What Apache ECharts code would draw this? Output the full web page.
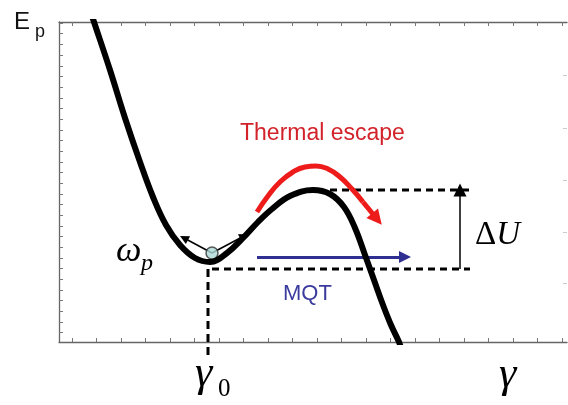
<!DOCTYPE html>
<html>
<head>
<meta charset="utf-8">
<script src="https://cdn.jsdelivr.net/npm/echarts@6/dist/echarts.min.js"></script>
<style>
  html, body { margin: 0; padding: 0; background: #fff; }
  #chart { width: 568px; height: 405px; }
</style>
</head>
<body>
<div id="chart"></div>
<script>
// potential E_p(γ) (arbitrary units, frame = 508 x 320)
const curveX = [33, 35, 51, 66, 81, 94, 107, 121, 136, 151, 168, 184, 199, 213, 231, 254, 271, 285, 296, 306, 315, 324, 332, 340, 342];
const curveY = [326, 320, 272, 224, 180, 145, 117, 97, 84, 80, 89, 104, 120, 133, 146, 152, 148, 135, 114, 87, 62, 37, 17, 0, -6];

// well bottom / barrier top levels
const gamma0 = 149;
const wellLevel = 73;
const barrierLevel = 152;
const barrierStart = 271;
const levelEnd = 411;
const deltaUx = 401;

// particle in the well and its oscillation arrows
const particle = [153, 89];
const oscTips = [[125, 104], [185, 106]];

// thermal escape arc (red) and tunnelling arrow (blue)
const arcX = [198, 209, 221, 234, 246, 257, 269, 281, 293, 304];
const arcY = [130, 146, 160, 170, 175, 176, 173, 165, 153, 140];
const arcHead = [[304, 140], [318, 123]];
const mqtArrow = [[198, 85], [346, 85]];

// tick positions along the frame
const xTicks = Array.from({ length: 21 }, (_, i) => 13 + 24.5 * i);
const yTicks = Array.from({ length: 30 }, (_, i) => 9.5 + 10.67 * i);
const rightTicks = [59, 110, 162, 214, 267];

const chart = echarts.init(document.getElementById('chart'));

const frameLine = { show: true, onZero: false, lineStyle: { color: '#666', width: 1.3 } };
const innerTick = (vals, color) => ({
  show: true, inside: true, length: 4, customValues: vals,
  lineStyle: { color: color || '#777', width: 1 }
});

const option = {
  animation: false,
  grid: { left: 59, top: 22, right: 1, bottom: 63 },
  xAxis: [
    {
      type: 'value', min: 0, max: 508, position: 'bottom',
      axisLine: frameLine, axisTick: innerTick(xTicks),
      axisLabel: { show: false }, splitLine: { show: false }
    },
    {
      type: 'value', min: 0, max: 508, position: 'top',
      axisLine: frameLine, axisTick: innerTick(xTicks),
      axisLabel: { show: false }, splitLine: { show: false }
    }
  ],
  yAxis: [
    {
      type: 'value', min: 0, max: 320, position: 'left',
      axisLine: frameLine, axisTick: innerTick(yTicks),
      axisLabel: { show: false }, splitLine: { show: false }
    },
    {
      type: 'value', min: 0, max: 320, position: 'right',
      axisLine: { show: false, onZero: false }, axisTick: innerTick(rightTicks, '#ccc'),
      axisLabel: { show: false }, splitLine: { show: false }
    }
  ],
  series: [
    {
      // dashed guides
      type: 'line', data: [[barrierStart, barrierLevel], [levelEnd, barrierLevel]],
      symbol: 'none', lineStyle: { color: '#000', width: 3, type: [7, 5] }
    },
    {
      type: 'line', data: [[gamma0 + 4, wellLevel], [levelEnd, wellLevel]],
      symbol: 'none', lineStyle: { color: '#000', width: 3, type: [7, 5] }
    },
    {
      type: 'line', data: [[gamma0, wellLevel], [gamma0, -16]], clip: false,
      symbol: 'none', lineStyle: { color: '#000', width: 3, type: [8, 5] }
    },
    {
      name: 'E_p', type: 'line', smooth: 0.4, symbol: 'none',
      data: curveX.map((x, i) => [x, curveY[i]]),
      lineStyle: { color: '#000', width: 6 }
    },
    {
      // barrier height arrow
      type: 'lines', coordinateSystem: 'cartesian2d',
      symbol: ['none', 'triangle'], symbolSize: 13,
      data: [{ coords: [[deltaUx, wellLevel], [deltaUx, barrierLevel]] }],
      lineStyle: { color: '#000', width: 1.5, opacity: 1 }
    },
    {
      // small oscillation arrows
      type: 'lines', coordinateSystem: 'cartesian2d',
      symbol: ['none', 'triangle'], symbolSize: 9,
      data: oscTips.map(t => ({ coords: [particle, t] })),
      lineStyle: { color: '#000', width: 1.5, opacity: 1 }
    },
    {
      type: 'scatter', data: [particle], symbolSize: 12,
      itemStyle: { color: '#acd9d6', borderColor: '#333', borderWidth: 1.5 }
    },
    {
      // thermal escape arc
      type: 'line', smooth: 0.5, symbol: 'none',
      data: arcX.map((x, i) => [x, arcY[i]]),
      lineStyle: { color: '#ee1b1b', width: 5 }
    },
    {
      type: 'lines', coordinateSystem: 'cartesian2d',
      symbol: ['none', 'triangle'], symbolSize: 15,
      data: [{ coords: arcHead }],
      lineStyle: { color: '#ee1b1b', width: 5, opacity: 1 }
    },
    {
      // tunnelling arrow
      type: 'lines', coordinateSystem: 'cartesian2d',
      symbol: ['none', 'triangle'], symbolSize: 12,
      data: [{ coords: mqtArrow }],
      lineStyle: { color: '#2e2f90', width: 3, opacity: 1 }
    }
  ],
  graphic: [
    { type: 'text', x: 14, y: 22, style: { text: 'E', font: '24px "Liberation Sans"', fill: '#111', verticalAlign: 'middle' } },
    { type: 'text', x: 35, y: 32, style: { text: 'p', font: '18px "Liberation Sans"', fill: '#111', verticalAlign: 'middle' } },
    { type: 'text', x: 116, y: 252, style: { text: 'ω', font: 'italic 36px "Liberation Serif"', fill: '#000', verticalAlign: 'middle' } },
    { type: 'text', x: 141, y: 264, style: { text: 'p', font: 'italic 24px "Liberation Serif"', fill: '#000', verticalAlign: 'middle' } },
    { type: 'text', x: 195, y: 374, style: { text: 'γ', font: 'italic 44px "Liberation Serif"', fill: '#000', verticalAlign: 'middle' } },
    { type: 'text', x: 218, y: 389, style: { text: '0', font: '25px "Liberation Serif"', fill: '#000', verticalAlign: 'middle' } },
    { type: 'text', x: 499, y: 375, style: { text: 'γ', font: 'italic 44px "Liberation Serif"', fill: '#000', verticalAlign: 'middle' } },
    {
      type: 'text', x: 475, y: 235,
      style: {
        text: '{d|Δ}{u|U}', verticalAlign: 'middle', fill: '#000',
        rich: {
          d: { font: '33px "Liberation Serif"', fill: '#000' },
          u: { font: 'italic 33px "Liberation Serif"', fill: '#000' }
        }
      }
    },
    { type: 'text', x: 240, y: 134, style: { text: 'Thermal escape', font: '23px "Liberation Sans"', fill: '#d2232a', verticalAlign: 'middle' } },
    { type: 'text', x: 283, y: 294, style: { text: 'MQT', font: '22px "Liberation Sans"', fill: '#3b3b9e', verticalAlign: 'middle' } }
  ]
};

chart.setOption(option);
</script>
</body>
</html>
